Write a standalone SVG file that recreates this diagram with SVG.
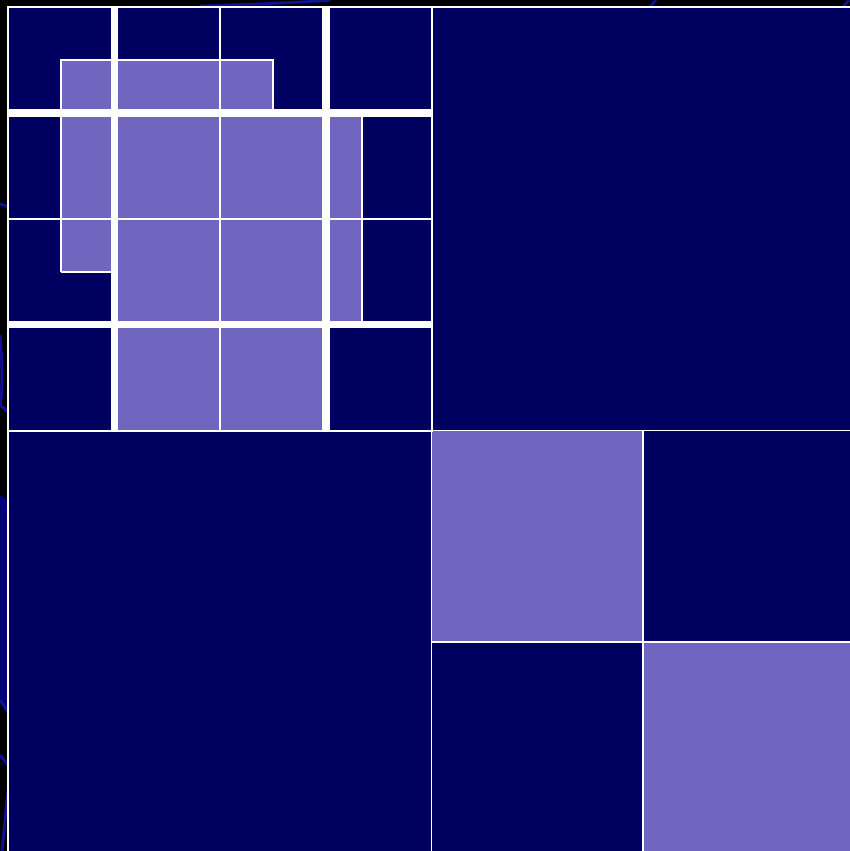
<svg xmlns="http://www.w3.org/2000/svg" width="850" height="851" viewBox="0 0 850 851">
<style>
.n{fill:#000060}
.l{fill:#7066c0}
.t{stroke:#ffffff;stroke-width:2;fill:none}
.k{fill:#ffffff}
.c{stroke:#10109a;stroke-width:3;fill:none}
</style>
<rect x="0" y="0" width="850" height="851" fill="#000000"/>
<g id="background-curves">
<path class="c" d="M200,6 C260,4 300,3 330,0"/>
<path class="c" d="M650,7 L656,0"/>
<path class="c" d="M843,7 L849,0"/>
<path class="c" d="M0,204 C3,205 6,206 8,207"/>
<path class="c" d="M0,335 C2,360 3,390 0,405 L8,412"/>
<polygon points="0,495 8,500 8,710 0,700" fill="#00007a"/>
<path class="c" d="M0,700 L8,712"/>
<path class="c" d="M0,755 L8,765"/>
<path class="c" d="M8,790 L2,851"/>
</g>
<g id="quadrant-top-right"><rect class="n" x="432" y="7" width="420" height="424"/><rect class="t" x="432" y="7" width="420" height="424"/></g>
<g id="quadrant-bottom-left"><rect class="n" x="8" y="431" width="424" height="422"/><rect class="t" x="8" y="431" width="424" height="422"/></g>
<g id="quadrant-bottom-right">
<rect class="l" x="432" y="431" width="211" height="211"/>
<rect class="n" x="643" y="431" width="209" height="211"/>
<rect class="n" x="432" y="642" width="211" height="211"/>
<rect class="l" x="643" y="642" width="209" height="211"/>
<path class="t" d="M643,431 V851 M432,642 H850"/>
</g>
<g id="quadrant-top-left">
<rect class="n" x="8" y="7" width="424" height="424"/>
<g id="overlay-a">
<rect class="l" x="61" y="60" width="212" height="49"/>
<rect class="l" x="61" y="109" width="50" height="163"/>
</g>
<g id="overlay-b">
<rect class="l" x="114" y="113" width="212" height="318"/>
<rect class="l" x="326" y="113" width="35" height="212"/>
</g>
<path class="t" d="M61,272 V60 H273 V109 M61,272 H111 M362,117 V321"/>
<path class="t" d="M8,7 H432 V431 H8 Z M220,7 V431 M8,219 H432"/>
<g id="thick-bars">
<rect class="k" x="111" y="7" width="7" height="424"/>
<rect class="k" x="322" y="7" width="8" height="424"/>
<rect class="k" x="8" y="109" width="424" height="8"/>
<rect class="k" x="8" y="321" width="424" height="7"/>
</g>
</g>
<rect class="t" x="8" y="7" width="844" height="846"/>
</svg>
